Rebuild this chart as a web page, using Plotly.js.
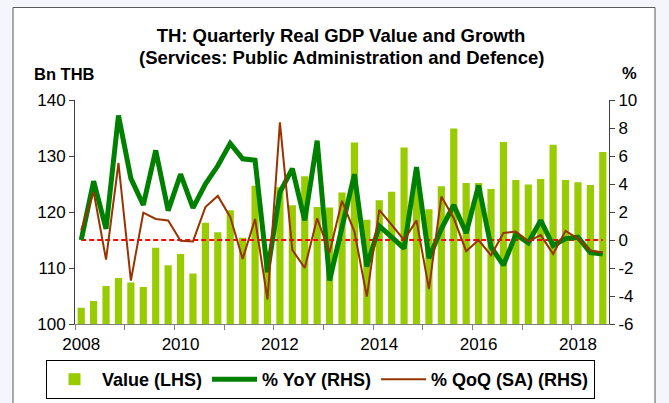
<!DOCTYPE html>
<html>
<head>
<meta charset="utf-8">
<script src="https://cdn.plot.ly/plotly-3.0.1.min.js"></script>
<style>
html,body{margin:0;padding:0;background:#f5f6fb;}
#chart{width:669px;height:403px;}
</style>
</head>
<body>
<div id="chart"></div>
<script>
const quarters = [
  '2008Q1','2008Q2','2008Q3','2008Q4','2009Q1','2009Q2','2009Q3','2009Q4',
  '2010Q1','2010Q2','2010Q3','2010Q4','2011Q1','2011Q2','2011Q3','2011Q4',
  '2012Q1','2012Q2','2012Q3','2012Q4','2013Q1','2013Q2','2013Q3','2013Q4',
  '2014Q1','2014Q2','2014Q3','2014Q4','2015Q1','2015Q2','2015Q3','2015Q4',
  '2016Q1','2016Q2','2016Q3','2016Q4','2017Q1','2017Q2','2017Q3','2017Q4',
  '2018Q1','2018Q2','2018Q3'
];
const valueBn = [
  102.9, 104.1, 106.8, 108.2, 107.4, 106.6, 113.6, 110.5,
  112.5, 109.0, 118.1, 116.4, 120.3, 115.4, 124.7, 113.0,
  124.4, 121.2, 126.4, 120.9, 120.8, 123.5, 132.4, 118.6,
  122.1, 123.6, 131.5, 124.7, 120.5, 124.6, 134.9, 125.2,
  125.2, 124.1, 132.5, 125.7, 124.9, 125.9, 132.0, 125.7,
  125.3, 124.8, 130.7
];
const yoyPct = [
  0.0, 4.2, 0.8, 8.9, 4.4, 2.5, 6.4, 2.1,
  4.7, 2.3, 4.0, 5.3, 6.9, 5.8, 5.7, -2.3,
  3.4, 5.1, 1.4, 7.1, -2.9, 1.0, 4.7, -1.9,
  1.0, 0.2, -0.6, 5.2, -1.3, 0.8, 2.5, 0.5,
  3.9, -0.5, -1.8, 0.4, -0.2, 1.4, -0.4, 0.1,
  0.2, -0.9, -1.0
];
const qoqPct = [
  0.7, 3.45, -1.4, 5.5, -2.9, 1.95, 1.5, 1.4,
  -0.05, -0.1, 2.35, 3.15, 1.65, -1.35, 1.5, -4.25,
  8.4, -0.7, -2.0, 1.55, -0.9, 2.8, 0.6, -4.05,
  2.15, 1.1, 0.0, 1.4, -3.5, 3.1, 1.55, -0.8,
  0.0, -1.1, 0.5, 0.6, -0.1, 0.35, -1.0, 0.65,
  0.1, -0.75, -0.9
];
const yearLabels = ['2008','2010','2012','2014','2016','2018'];
const leftTicks = [100, 110, 120, 130, 140];
const rightTicks = [-6, -4, -2, 0, 2, 4, 6, 8, 10];
const rightTickText = ['-6', '-4', '-2', '0', '2', '4', '6', '8', '10'];

const xIdx = quarters.map((q, i) => i);
const labelPos = yearLabels.map(y => quarters.indexOf(y + 'Q1'));
const boundaryPos = quarters.map((q, i) => q.endsWith('Q1') ? i - 0.5 : null).filter(v => v !== null);
const zeroLine = quarters.map(() => 0);

const FONT = 'Liberation Sans, Arial, Helvetica, sans-serif';

const traces = [
  {type: 'bar', x: xIdx, y: valueBn, name: 'Value (LHS)', xaxis: 'x', yaxis: 'y',
   marker: {color: '#99cc00'}, hoverinfo: 'y'},
  {type: 'scatter', mode: 'lines', x: xIdx, y: zeroLine, xaxis: 'x', yaxis: 'y2',
   line: {color: '#ff0000', width: 2, dash: '5px,3px'}, showlegend: false, hoverinfo: 'skip'},
  {type: 'scatter', mode: 'lines', x: xIdx, y: yoyPct, name: '% YoY (RHS)', xaxis: 'x', yaxis: 'y2',
   line: {color: '#008000', width: 5}},
  {type: 'scatter', mode: 'lines', x: xIdx, y: qoqPct, name: '% QoQ (SA) (RHS)', xaxis: 'x', yaxis: 'y2',
   line: {color: '#993300', width: 2}}
];

const W = 669, H = 403, L = 75, R = 60, T = 100, B = 79;
const pw = W - L - R, ph = H - T - B;
const px2x = p => (p - L) / pw;
const px2y = p => (H - B - p) / ph;

const layout = {
  width: W, height: H,
  margin: {l: L, r: R, t: T, b: B, pad: 0, autoexpand: false},
  paper_bgcolor: '#f5f6fb',
  plot_bgcolor: '#ffffff',
  font: {family: FONT, color: '#000000', size: 17},
  showlegend: true,
  bargap: 0.42,
  title: {
    text: 'TH: Quarterly Real GDP Value and Growth',
    font: {family: FONT, size: 18.5, weight: 700, color: '#000'},
    xref: 'container', yref: 'container',
    x: 341 / W, xanchor: 'center',
    y: 1 - 36 / H, yanchor: 'middle'
  },
  xaxis: {
    range: [-0.5, 42.5],
    tickmode: 'array', tickvals: labelPos, ticktext: yearLabels,
    ticks: 'outside', ticklen: 5, tickcolor: 'rgba(0,0,0,0)',
    tickfont: {family: FONT, size: 17, color: '#000'},
    showline: true, linecolor: '#808080', linewidth: 1,
    showgrid: false, zeroline: false, fixedrange: true,
    minor: {tickmode: 'array', tickvals: boundaryPos, ticks: 'outside', ticklen: 5,
            tickcolor: '#808080', tickwidth: 1, showgrid: false}
  },
  yaxis: {
    range: [100, 140], tickmode: 'array', tickvals: leftTicks,
    ticks: 'outside', ticklen: 5, tickcolor: '#404040', tickwidth: 1,
    tickfont: {family: FONT, size: 17, color: '#000'},
    showline: true, linecolor: '#404040', linewidth: 1,
    showgrid: false, zeroline: false, fixedrange: true
  },
  yaxis2: {
    overlaying: 'y', side: 'right',
    range: [-6, 10], tickmode: 'array', tickvals: rightTicks, ticktext: rightTickText,
    ticks: 'outside', ticklen: 5, tickcolor: '#404040', tickwidth: 1,
    tickfont: {family: FONT, size: 17, color: '#000'},
    showline: true, linecolor: '#404040', linewidth: 1,
    showgrid: false, zeroline: false, fixedrange: true
  },
  legend: {
    orientation: 'h',
    x: px2x(46), xanchor: 'left',
    y: px2y(399), yanchor: 'bottom',
    bgcolor: '#ffffff', bordercolor: '#000000', borderwidth: 1,
    font: {family: FONT, size: 18, weight: 700, color: '#000'},
    itemwidth: 45,
    traceorder: 'normal'
  },
  shapes: [
    {type: 'rect', xref: 'paper', yref: 'paper', layer: 'below',
     x0: px2x(13), x1: px2x(655), y0: px2y(412), y1: px2y(7.5),
     fillcolor: '#ffffff', line: {color: '#595959', width: 1}}
  ],
  annotations: [
    {text: '(Services: Public Administration and Defence)', xref: 'paper', yref: 'paper',
     x: px2x(341), y: px2y(57.5), xanchor: 'center', yanchor: 'middle', showarrow: false,
     font: {family: FONT, size: 18.5, weight: 700, color: '#000'}},
    {text: 'Bn THB', xref: 'paper', yref: 'paper',
     x: px2x(64), y: px2y(74), xanchor: 'center', yanchor: 'middle', showarrow: false,
     font: {family: FONT, size: 16.5, weight: 700, color: '#000'}},
    {text: '%', xref: 'paper', yref: 'paper',
     x: px2x(629), y: px2y(73), xanchor: 'center', yanchor: 'middle', showarrow: false,
     font: {family: FONT, size: 16.5, weight: 700, color: '#000'}}
  ]
};

Plotly.newPlot('chart', traces, layout, {displayModeBar: false, staticPlot: true});
</script>
</body>
</html>
